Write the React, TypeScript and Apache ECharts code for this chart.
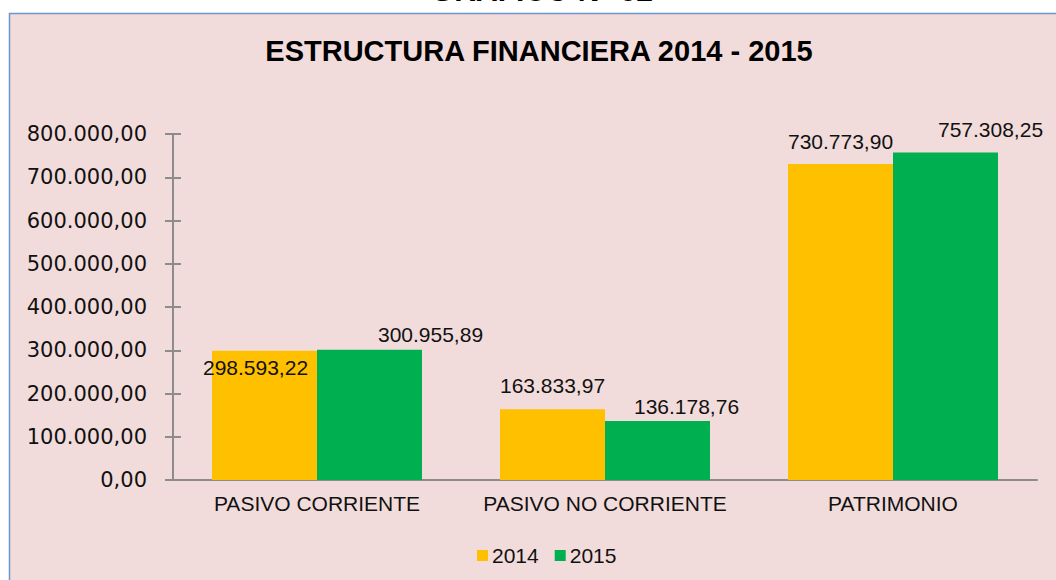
import React, { useEffect, useRef } from "react";
import * as echarts from "echarts";

const categories = ["PASIVO CORRIENTE", "PASIVO NO CORRIENTE", "PATRIMONIO"];
const seriesNames = ["2014", "2015"];
const values2014 = [298593.22, 163833.97, 730773.9];
const values2015 = [300955.89, 136178.76, 757308.25];
const yTicks = [0, 100000, 200000, 300000, 400000, 500000, 600000, 700000, 800000];
const chartTitle = "ESTRUCTURA FINANCIERA 2014 - 2015";
const pageHeading = "GRÁFICO N° 02";

// label placement tweaks (layout only), [dx, dy] per bar
const labelOffsets2014 = [[-9, 32], [0, -8], [0, -7]];
const labelOffsets2015 = [[61, 0], [29, 1], [45, -7]];

const fmt = (v: number) => {
  const [i, d] = v.toFixed(2).split(".");
  return i.replace(/\B(?=(\d{3})+(?!\d))/g, ".") + "," + d;
};

const YELLOW = "#FFC000";
const GREEN = "#00B050";
const AXIS = "#8c8c8c";

export default function App() {
  const ref = useRef<HTMLDivElement>(null);
  useEffect(() => {
    if (!ref.current) return;
    const chart = echarts.init(ref.current, undefined, { renderer: "svg" });
    const mk = (name: string, vals: number[], offs: number[][], color: string) => ({
      name,
      type: "bar",
      barWidth: 105,
      barGap: "0%",
      itemStyle: { color },
      data: vals.map((v, i) => ({
        value: v,
        label: { offset: offs[i] },
      })),
      label: {
        show: true,
        position: "top",
        distance: 5,
        fontFamily: "Liberation Sans, Arial, sans-serif",
        fontSize: 21,
        color: "#111",
        formatter: (p: any) => fmt(p.value),
      },
    });
    chart.setOption({
      animation: false,
      backgroundColor: "#ffffff",
      graphic: [
        {
          type: "rect",
          z: -10,
          silent: true,
          shape: { x: 9.5, y: 13.5, width: 1100, height: 620 },
          style: { fill: "#F2DCDB", stroke: "#6d95d0", lineWidth: 1.5 },
        },
        {
          type: "text",
          z: -5,
          silent: true,
          x: 542,
          y: -10,
          style: {
            text: pageHeading,
            fontFamily: "Liberation Sans, Arial, sans-serif",
            fontWeight: "bold",
            fontSize: 30,
            fill: "#000",
            align: "center",
            verticalAlign: "middle",
          },
        },
        {
          type: "text",
          silent: true,
          x: 539,
          y: 51,
          style: {
            text: chartTitle,
            fontFamily: "Liberation Sans, Arial, sans-serif",
            fontWeight: "bold",
            fontSize: 29,
            fill: "#000",
            align: "center",
            verticalAlign: "middle",
          },
        },
      ],
      legend: {
        data: seriesNames,
        left: 472,
        top: 540,
        itemWidth: 11,
        itemHeight: 11,
        itemGap: 16,
        icon: "rect",
        textStyle: {
          fontFamily: "Liberation Sans, Arial, sans-serif",
          fontSize: 21,
          color: "#111",
          padding: [0, 0, 0, -1],
        },
      },
      grid: { left: 173, right: 19, top: 134, bottom: 100, containLabel: false },
      xAxis: {
        type: "category",
        data: categories,
        axisLine: { lineStyle: { color: AXIS, width: 2 } },
        axisTick: { show: false },
        axisLabel: {
          interval: 0,
          margin: 13,
          fontFamily: "Liberation Sans, Arial, sans-serif",
          fontSize: 21,
          color: "#111",
        },
      },
      yAxis: [
        {
          type: "value",
          min: yTicks[0],
          max: yTicks[yTicks.length - 1],
          interval: yTicks[1] - yTicks[0],
          position: "left",
          axisLine: { show: true, lineStyle: { color: AXIS, width: 2 } },
          axisTick: { show: true, length: 8, lineStyle: { color: AXIS, width: 2 } },
          splitLine: { show: false },
          axisLabel: {
            margin: 26,
            fontFamily: "DejaVu Sans, sans-serif",
            fontSize: 21,
            color: "#111",
            formatter: (v: number) => fmt(v),
          },
        },
        {
          type: "value",
          min: yTicks[0],
          max: yTicks[yTicks.length - 1],
          interval: yTicks[1] - yTicks[0],
          position: "left",
          offset: 0,
          axisLine: { show: false },
          axisTick: { show: true, inside: true, length: 8, lineStyle: { color: AXIS, width: 2 } },
          splitLine: { show: false },
          axisLabel: { show: false },
        },
      ],
      series: [
        mk(seriesNames[0], values2014, labelOffsets2014, YELLOW),
        mk(seriesNames[1], values2015, labelOffsets2015, GREEN),
      ],
    });
    return () => chart.dispose();
  }, []);
  return (
    <div
      ref={ref}
      style={{ position: "fixed", left: 0, top: 0, width: 1056, height: 580 }}
    />
  );
}
